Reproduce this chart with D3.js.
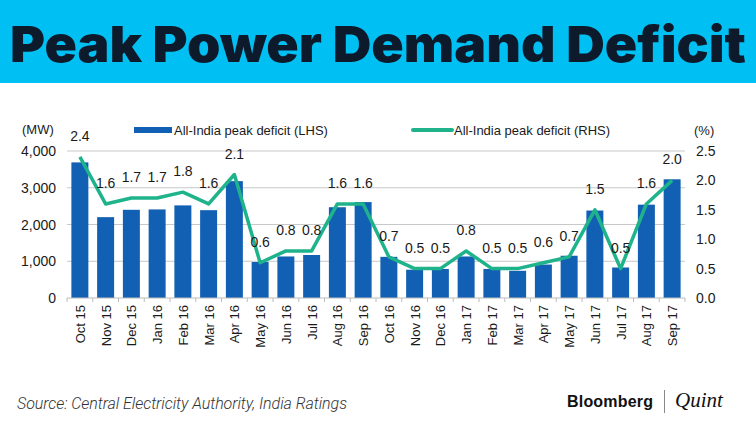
<!DOCTYPE html>
<html>
<head>
<meta charset="utf-8">
<script src="https://cdn.jsdelivr.net/npm/d3@7"></script>
<style>
  body { margin: 0; background: #fff; }
  svg { display: block; }
</style>
</head>
<body>
<div id="chart"></div>
<script>
// Peak power demand deficit, Oct 15 - Sep 17
// bars = MW (left axis), line = % (right axis)

const months = ['Oct 15', 'Nov 15', 'Dec 15', 'Jan 16', 'Feb 16', 'Mar 16', 'Apr 16', 'May 16',
    'Jun 16', 'Jul 16', 'Aug 16', 'Sep 16', 'Oct 16', 'Nov 16', 'Dec 16', 'Jan 17', 'Feb 17',
    'Mar 17', 'Apr 17', 'May 17', 'Jun 17', 'Jul 17', 'Aug 17', 'Sep 17'];
const deficitMW = [3690, 2200, 2400, 2410, 2520, 2390, 3180, 980, 1130, 1170, 2470, 2610,
    1120, 770, 790, 1130, 790, 740, 910, 1150, 2380, 830, 2540, 3230];
const deficitPct = [2.4, 1.6, 1.7, 1.7, 1.8, 1.6, 2.1, 0.6, 0.8, 0.8, 1.6, 1.6,
    0.7, 0.5, 0.5, 0.8, 0.5, 0.5, 0.6, 0.7, 1.5, 0.5, 1.6, 2.0];
const leftTicks = [0, 1000, 2000, 3000, 4000];
const rightTicks = [0, 0.5, 1.0, 1.5, 2.0, 2.5];

const W = 756, H = 423;
const margin = { top: 151, right: 71, bottom: 125, left: 67 };

const svg = d3.select('#chart').append('svg')
    .attr('width', W)
    .attr('height', H);

// header banner
svg.append('rect')
    .attr('x', 0).attr('y', 0)
    .attr('width', W).attr('height', 83)
    .attr('fill', '#00bff3');

svg.append('text')
    .attr('x', 10).attr('y', 62)
    .attr('textLength', 736)
    .attr('lengthAdjust', 'spacingAndGlyphs')
    .style('font-family', 'Inter, "Open Sans", sans-serif')
    .style('font-weight', 900)
    .style('font-size', '50px')
    .attr('fill', '#0c1a2b')
    .text('Peak Power Demand Deficit');

const x = d3.scaleBand()
    .domain(months)
    .range([margin.left, W - margin.right])
    .paddingInner(0.34)
    .paddingOuter(0.17);

const yL = d3.scaleLinear()
    .domain([0, 4000])
    .range([H - margin.bottom, margin.top]);

const yR = d3.scaleLinear()
    .domain([0, 2.5])
    .range([H - margin.bottom, margin.top]);

const tickFont = 'Liberation Sans, Arial, sans-serif';

// gridlines
svg.append('g')
    .selectAll('line')
    .data(leftTicks.filter(d => d > 0))
    .join('line')
    .attr('x1', margin.left)
    .attr('x2', W - margin.right)
    .attr('y1', d => yL(d))
    .attr('y2', d => yL(d))
    .attr('stroke', '#c8c8c8')
    .attr('stroke-width', 1);

// bars
svg.append('g')
    .selectAll('rect')
    .data(deficitMW)
    .join('rect')
    .attr('x', (d, i) => x(months[i]))
    .attr('y', d => yL(d))
    .attr('width', x.bandwidth())
    .attr('height', d => yL(0) - yL(d))
    .attr('fill', '#1260b4');

// x axis: baseline with ticks between categories
const step = x.step();
const x0 = margin.left;
const axisY = yL(0);
svg.append('line')
    .attr('x1', margin.left).attr('x2', W - margin.right)
    .attr('y1', axisY).attr('y2', axisY)
    .attr('stroke', '#bcbcbc');

svg.append('g')
    .selectAll('line')
    .data(d3.range(months.length + 1))
    .join('line')
    .attr('x1', i => x0 + i * step)
    .attr('x2', i => x0 + i * step)
    .attr('y1', axisY)
    .attr('y2', axisY + 4)
    .attr('stroke', '#bcbcbc');

svg.append('g')
    .selectAll('text')
    .data(months)
    .join('text')
    .attr('transform', d => `translate(${x(d) + x.bandwidth() / 2 + 5},${axisY + 7}) rotate(-90)`)
    .attr('text-anchor', 'end')
    .style('font-family', tickFont)
    .style('font-size', '13px')
    .attr('fill', '#1a1a1a')
    .text(d => d);

// left axis labels
svg.append('g')
    .selectAll('text')
    .data(leftTicks)
    .join('text')
    .attr('x', 56)
    .attr('y', d => yL(d) + 5)
    .attr('text-anchor', 'end')
    .style('font-family', tickFont)
    .style('font-size', '14px')
    .attr('fill', '#1a1a1a')
    .text(d => d3.format(',')(d));

// right axis labels
svg.append('g')
    .selectAll('text')
    .data(rightTicks)
    .join('text')
    .attr('x', 696)
    .attr('y', d => yR(d) + 5)
    .style('font-family', tickFont)
    .style('font-size', '14px')
    .attr('fill', '#1a1a1a')
    .text(d => d.toFixed(1));

svg.append('text')
    .attr('x', 22).attr('y', 134)
    .style('font-family', tickFont)
    .style('font-size', '13px')
    .attr('fill', '#1a1a1a')
    .text('(MW)');

svg.append('text')
    .attr('x', 694).attr('y', 135)
    .style('font-family', tickFont)
    .style('font-size', '13px')
    .attr('fill', '#1a1a1a')
    .text('(%)');

// percentage line
const line = d3.line()
    .x((d, i) => x(months[i]) + x.bandwidth() / 2)
    .y(d => yR(d));

svg.append('path')
    .datum(deficitPct)
    .attr('d', line)
    .attr('fill', 'none')
    .attr('stroke', '#1fb38c')
    .attr('stroke-width', 3.5)
    .attr('stroke-linejoin', 'round');

// data labels above the line
svg.append('g')
    .selectAll('text')
    .data(deficitPct)
    .join('text')
    .attr('x', (d, i) => x(months[i]) + x.bandwidth() / 2)
    .attr('y', d => yR(d) - 16)
    .attr('text-anchor', 'middle')
    .style('font-family', tickFont)
    .style('font-size', '14px')
    .attr('fill', '#1a1a1a')
    .text(d => d.toFixed(1));

// legend
const legend = svg.append('g').style('font-family', tickFont).style('font-size', '13px');
legend.append('rect')
    .attr('x', 134).attr('y', 127)
    .attr('width', 38).attr('height', 6)
    .attr('fill', '#1260b4');
legend.append('text')
    .attr('x', 174).attr('y', 135)
    .attr('fill', '#1a1a1a')
    .text('All-India peak deficit (LHS)');
legend.append('line')
    .attr('x1', 413).attr('x2', 452)
    .attr('y1', 130).attr('y2', 130)
    .attr('stroke', '#1fb38c')
    .attr('stroke-width', 4)
    .attr('stroke-linecap', 'round');
legend.append('text')
    .attr('x', 454).attr('y', 135)
    .attr('fill', '#1a1a1a')
    .text('All-India peak deficit (RHS)');

// footer
svg.append('text')
    .attr('x', 17).attr('y', 409)
    .attr('textLength', 330)
    .style('font-family', 'Roboto, sans-serif')
    .style('font-style', 'italic')
    .style('font-weight', 300)
    .style('font-size', '16px')
    .attr('fill', '#333')
    .text('Source: Central Electricity Authority, India Ratings');

svg.append('text')
    .attr('x', 567).attr('y', 407)
    .style('font-family', 'Liberation Sans, Arial, sans-serif')
    .style('font-weight', 'bold')
    .style('font-size', '16px')
    .attr('textLength', 86)
    .attr('fill', '#111')
    .text('Bloomberg');

svg.append('line')
    .attr('x1', 664.5).attr('x2', 664.5)
    .attr('y1', 390).attr('y2', 413)
    .attr('stroke', '#888');

svg.append('text')
    .attr('x', 675).attr('y', 407)
    .style('font-family', '"Liberation Serif", "DejaVu Serif", serif')
    .style('font-style', 'italic')
    .style('font-size', '21px')
    .attr('fill', '#111')
    .text('Quint');
</script>
</body>
</html>
